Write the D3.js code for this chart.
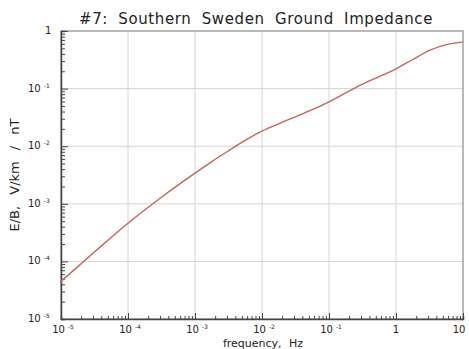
<!DOCTYPE html>
<html>
<head>
<meta charset="utf-8">
<script src="https://cdn.jsdelivr.net/npm/d3@7"></script>
<style>
  body { margin: 0; background: #fff; }
  svg { display: block; font-family: "DejaVu Sans", sans-serif; }
</style>
</head>
<body>
<svg id="chart" width="469" height="349"></svg>
<script>
// values (frequency in Hz, E/B in V/km / nT)
var freqs = [1e-5, 3.16e-5, 1e-4, 3.16e-4, 1e-3, 1.78e-3, 3.16e-3, 5.62e-3, 1e-2, 1.78e-2, 3.16e-2, 5.62e-2,
             1e-1, 3.16e-1, 1, 1.78, 3.16, 5.62, 10];
var impedance = [4.5e-5, 1.46e-4, 4.6e-4, 1.3e-3, 3.4e-3, 5.4e-3, 8.3e-3, 0.0126, 0.0182, 0.0245, 0.0324, 0.043,
                 0.059, 0.12, 0.22, 0.32, 0.46, 0.58, 0.64];
var xTickExps = [-5, -4, -3, -2, -1, 0, 1];
var yTickExps = [-5, -4, -3, -2, -1, 0];

var margin = {left: 61, right: 6, top: 31, bottom: 30};
var width = 469, height = 349;

var svg = d3.select('#chart');

var x = d3.scaleLog().domain([1e-5, 10]).range([margin.left, width - margin.right]);
var y = d3.scaleLog().domain([1e-5, 1]).range([height - margin.bottom, margin.top]);

// grid
var g = svg.append('g').attr('class', 'grid');
xTickExps.slice(1, -1).forEach(function(e) {
  g.append('line')
    .attr('x1', x(Math.pow(10, e))).attr('x2', x(Math.pow(10, e)))
    .attr('y1', y.range()[0]).attr('y2', y.range()[1])
    .attr('stroke', '#d4d4d4').attr('stroke-width', 1);
});
yTickExps.slice(1, -1).forEach(function(e) {
  g.append('line')
    .attr('x1', x.range()[0]).attr('x2', x.range()[1])
    .attr('y1', y(Math.pow(10, e))).attr('y2', y(Math.pow(10, e)))
    .attr('stroke', '#d4d4d4').attr('stroke-width', 1);
});

// frame
svg.append('rect')
  .attr('x', x.range()[0]).attr('y', y.range()[1])
  .attr('width', x.range()[1] - x.range()[0])
  .attr('height', y.range()[0] - y.range()[1])
  .attr('fill', 'none').attr('stroke', '#8a8a8a').attr('stroke-width', 1.2);

// minor + major ticks, pointing into the plot
var xAxis = d3.axisTop(x).tickSize(3).tickFormat('');
svg.append('g')
  .attr('transform', 'translate(0,' + y.range()[0] + ')')
  .call(xAxis)
  .call(function(s) {
    s.select('.domain').attr('stroke', '#444').attr('stroke-width', 1.5);
    s.selectAll('.tick line').attr('stroke', '#444')
      .attr('y2', function(d) { return Math.abs(Math.log10(d) % 1) < 1e-6 ? -6 : -3; });
  });

var yAxis = d3.axisRight(y).tickSize(4).tickFormat('');
svg.append('g')
  .attr('transform', 'translate(' + x.range()[0] + ',0)')
  .call(yAxis)
  .call(function(s) {
    s.select('.domain').attr('stroke', '#444').attr('stroke-width', 1.5);
    s.selectAll('.tick line').attr('stroke', '#444')
      .attr('x2', function(d) { return Math.abs(Math.log10(d) % 1) < 1e-6 ? 7 : 4; });
  });

// tick labels, "10" with a small superscript exponent
function powLabel(sel, e) {
  if (e === 0) { sel.text('1'); return; }
  if (e === 1) { sel.text('10'); return; }
  sel.append('tspan').text('10');
  sel.append('tspan').attr('dy', -4).attr('font-size', 6).attr('dx', 3).text('-' + Math.abs(e));
}

xTickExps.forEach(function(e) {
  var t = svg.append('text')
    .attr('x', x(Math.pow(10, e)) + (e === 1 ? -4 : (e === 0 ? 0 : 2)))
    .attr('y', 333)
    .attr('text-anchor', 'middle')
    .attr('font-size', 10).attr('fill', '#222');
  powLabel(t, e);
});

yTickExps.forEach(function(e) {
  var t = svg.append('text')
    .attr('x', e === 0 ? 45 : 28)
    .attr('y', y(Math.pow(10, e)) + 3)
    .attr('text-anchor', 'start')
    .attr('font-size', 10).attr('fill', '#222');
  powLabel(t, e);
});

// curve
var line = d3.line()
  .x(function(d) { return x(d[0]); })
  .y(function(d) { return y(d[1]); })
  .curve(d3.curveMonotoneX);

svg.append('path')
  .datum(d3.zip(freqs, impedance))
  .attr('d', line)
  .attr('fill', 'none')
  .attr('stroke', '#c8605e')
  .attr('stroke-width', 1.4);

// titles
svg.append('text')
  .attr('x', 256).attr('y', 24)
  .attr('text-anchor', 'middle')
  .attr('font-size', 15).attr('fill', '#222')
  .attr('word-spacing', 5).attr('letter-spacing', 0.6)
  .text('#7: Southern Sweden Ground Impedance');

svg.append('text')
  .attr('x', 263).attr('y', 347)
  .attr('text-anchor', 'middle')
  .attr('font-size', 11).attr('fill', '#222')
  .attr('word-spacing', 4)
  .text('frequency, Hz');

svg.append('text')
  .attr('transform', 'translate(19,175) rotate(-90)')
  .attr('text-anchor', 'middle')
  .attr('font-size', 13).attr('fill', '#222')
  .attr('word-spacing', 7)
  .text('E/B, V/km / nT');
</script>
</body>
</html>
